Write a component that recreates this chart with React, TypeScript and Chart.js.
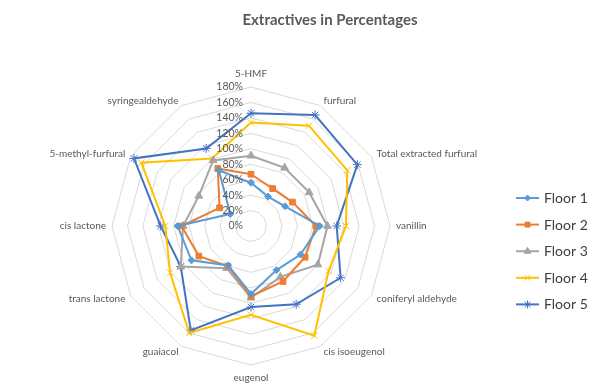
import React, { useEffect, useRef } from 'react';
import { Chart, registerables } from 'chart.js';
import { drawPoint } from 'chart.js/helpers';

Chart.register(...registerables);

const chartTitle = 'Extractives in Percentages';
const categories = [
  '5-HMF',
  'furfural',
  'Total extracted furfural',
  'vanillin',
  'coniferyl aldehyde',
  'cis isoeugenol',
  'eugenol',
  'guaiacol',
  'trans lactone',
  'cis lactone',
  '5-methyl-furfural',
  'syringealdehyde',
];
const floor1 = [56, 44, 51, 89, 74, 66, 88, 59, 89, 95, 31, 83];
const floor2 = [67, 56, 62, 84, 81, 83, 91, 60, 78, 90, 47, 86];
const floor3 = [91, 87, 87, 99, 100, 76, 93, 63, 105, 88, 78, 98];
const floor4 = [134, 150, 144, 123, 116, 164, 115, 160, 121, 111, 164, 101];
const floor5 = [146, 166, 159, 111, 134, 117, 105, 156, 105, 117, 175, 116];
const seriesNames = ['Floor 1', 'Floor 2', 'Floor 3', 'Floor 4', 'Floor 5'];
const seriesValues = [floor1, floor2, floor3, floor4, floor5];
const tickValues = [0, 20, 40, 60, 80, 100, 120, 140, 160, 180];

const seriesColors = ['#5B9BD5', '#ED7D31', '#A5A5A5', '#FFC000', '#4472C4'];
const markerStyles = ['rectRot', 'rect', 'triangle', 'crossRot', 'star'];
const markerRadii = [3.5, 4, 4.5, 4.5, 4.5];
const FONT = "Lato, 'Open Sans', sans-serif";
const TEXT_GREY = '#595959';

const overlayPlugin = {
  id: 'excelOverlay',
  afterDraw(chart: any) {
    const ctx = chart.ctx;
    const scale = chart.scales.r;
    const R = scale.drawingArea;
    ctx.save();

    // title
    ctx.fillStyle = TEXT_GREY;
    ctx.font = `bold 15px ${FONT}`;
    ctx.textAlign = 'center';
    ctx.textBaseline = 'middle';
    ctx.fillText(chartTitle, 330, 20);

    // tick labels (left of the vertical axis)
    ctx.font = `10.5px ${FONT}`;
    ctx.textAlign = 'right';
    tickValues.forEach((v) => {
      const d = scale.getDistanceFromCenterForValue(v);
      ctx.fillText(`${v}%`, scale.xCenter - 8, scale.yCenter - d);
    });

    // point labels
    ctx.font = `10px ${FONT}`;
    const n = categories.length;
    categories.forEach((label, i) => {
      let align: CanvasTextAlign = 'center';
      let dist = R + 6;
      if (i === 0 || i === n / 2) {
        dist = R + 13;
      } else if (i < n / 2) {
        align = 'left';
      } else {
        align = 'right';
      }
      const p = scale.getPointPosition(i, dist);
      ctx.textAlign = align;
      ctx.fillText(label, p.x, p.y);
    });

    // legend
    const lx0 = 516;
    const lx1 = 539;
    const ly0 = 198;
    const lstep = 26.6;
    ctx.font = `14px ${FONT}`;
    ctx.textAlign = 'left';
    seriesNames.forEach((name, i) => {
      const y = ly0 + i * lstep;
      ctx.strokeStyle = seriesColors[i];
      ctx.lineWidth = 2;
      ctx.beginPath();
      ctx.moveTo(lx0, y);
      ctx.lineTo(lx1, y);
      ctx.stroke();
      ctx.fillStyle = seriesColors[i];
      ctx.lineWidth = 1;
      drawPoint(ctx, { pointStyle: markerStyles[i], radius: markerRadii[i] - 0.5, rotation: 0, borderWidth: 1 } as any, (lx0 + lx1) / 2, y);
      ctx.fillStyle = '#404040';
      ctx.fillText(name, 544, y + 0.5);
    });

    ctx.restore();
  },
};

export default function App() {
  const canvasRef = useRef<HTMLCanvasElement | null>(null);

  useEffect(() => {
    const canvas = canvasRef.current;
    if (!canvas) return;
    const chart = new Chart(canvas, {
      type: 'radar',
      data: {
        labels: categories,
        datasets: seriesNames.map((name, i) => ({
          label: name,
          data: seriesValues[i],
          borderColor: seriesColors[i],
          backgroundColor: seriesColors[i],
          pointBackgroundColor: seriesColors[i],
          pointBorderColor: seriesColors[i],
          pointStyle: markerStyles[i] as any,
          pointRadius: markerRadii[i],
          pointBorderWidth: 1,
          borderWidth: 2,
          fill: false,
          tension: 0,
        })),
      },
      options: {
        responsive: false,
        animation: false,
        devicePixelRatio: 1,
        layout: { padding: { left: 112, right: 213, top: 87, bottom: 24 } },
        plugins: {
          legend: { display: false },
          title: { display: false },
          tooltip: { enabled: false },
        },
        scales: {
          r: {
            min: 0,
            max: 180,
            beginAtZero: true,
            ticks: { display: false, stepSize: 20 },
            pointLabels: { display: false },
            angleLines: { display: false },
            grid: { color: '#D9D9D9', lineWidth: 1 },
          },
        },
      },
      plugins: [overlayPlugin],
    });
    return () => chart.destroy();
  }, []);

  return (
    <div style={{ position: 'fixed', left: 0, top: 0, width: 603, height: 389, background: '#fff' }}>
      <canvas ref={canvasRef} width={603} height={389} style={{ width: 603, height: 389, display: 'block' }} />
    </div>
  );
}
